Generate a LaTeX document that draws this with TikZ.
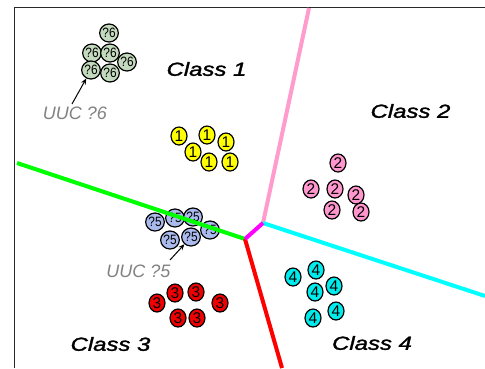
\documentclass[tikz,border=0pt]{standalone}
\usepackage{fontspec}
\setmainfont{Liberation Sans}
\newfontfamily\labelfont[FakeBold=1.4]{Liberation Sans}
\usetikzlibrary{shapes.geometric,arrows.meta}
\definecolor{framegray}{RGB}{40,40,40}
\definecolor{labgray}{RGB}{130,130,130}
\definecolor{fillsix}{RGB}{196,218,190}
\definecolor{fillfive}{RGB}{170,186,236}
\definecolor{fillone}{RGB}{255,255,0}
\definecolor{filltwo}{RGB}{255,150,205}
\definecolor{fillthree}{RGB}{240,0,0}
\definecolor{fillfour}{RGB}{0,235,235}
\definecolor{linegreen}{RGB}{0,255,0}
\definecolor{linepink}{RGB}{255,155,205}
\definecolor{linecyan}{RGB}{0,255,255}
\definecolor{linered}{RGB}{255,0,0}
\definecolor{linemag}{RGB}{255,0,255}
\tikzset{
  dot/.style={ellipse, draw=black, line width=1.2bp, minimum width=16bp,
    minimum height=18bp, inner sep=0pt,
    font=\fontsize{15.5bp}{15bp}\selectfont},
  qdot/.style={dot, font=\fontsize{13.5bp}{13bp}\selectfont},
  classlab/.style={font=\labelfont\fontsize{19bp}{20bp}\selectfont\itshape},
  uuclab/.style={font=\fontsize{18bp}{19bp}\selectfont\itshape, text=labgray},
  border/.style={draw=framegray, line width=1.8bp},
  bound/.style={line width=4bp},
  pointer/.style={draw=black, line width=1bp, -{Stealth[length=6bp,width=5bp]}}
}
\newcommand{\wide}[1]{\scalebox{1.26}[1]{#1}}
\newcommand{\tight}[1]{\scalebox{0.88}[1]{#1}}
\begin{document}
\begin{tikzpicture}[x=1bp,y=-1bp]
\useasboundingbox (0,0) rectangle (485,368);
\fill[white] (0,0) rectangle (485,368);
% frame
\draw[border] (14.5,368) -- (14.5,7.5) -- (485,7.5);

% unknown class ?5 (under the boundary)
\node[qdot, fill=fillfive] (q51) at (155,222) {\tight{?5}};
\node[qdot, fill=fillfive] (q52) at (175,218) {\tight{?5}};
\node[qdot, fill=fillfive] (q53) at (193,217) {\tight{?5}};
\node[qdot, fill=fillfive] (q54) at (210,230) {\tight{?5}};
\node[qdot, fill=fillfive] (q55) at (170,240) {\tight{?5}};
\node[qdot, fill=fillfive] (q56) at (191,237) {\tight{?5}};

% decision boundaries
\coordinate (ja) at (245,239);
\coordinate (jb) at (263,223);
\coordinate (eg) at (17,163);
\coordinate (ep) at (309,8);
\coordinate (ec) at (485,296);
\coordinate (er) at (282,368);
\draw[bound, linegreen] (eg) -- (ja);
\draw[bound, linered] (ja) -- (er);
\draw[bound, linepink] (jb) -- (ep);
\draw[bound, linecyan] (jb) -- (ec);
\draw[bound, linemag] (ja) -- (jb);

% unknown class ?6
\node[qdot, fill=fillsix] (q61) at (109,33) {\tight{?6}};
\node[qdot, fill=fillsix] (q62) at (92,53) {\tight{?6}};
\node[qdot, fill=fillsix] (q63) at (110,53) {\tight{?6}};
\node[qdot, fill=fillsix] (q64) at (127,62) {\tight{?6}};
\node[qdot, fill=fillsix] (q65) at (91,70) {\tight{?6}};
\node[qdot, fill=fillsix] (q66) at (110,73) {\tight{?6}};

% class 1
\node[dot, fill=fillone] (a1) at (179,136) {1};
\node[dot, fill=fillone] (a2) at (207,135) {1};
\node[dot, fill=fillone] (a3) at (226,142) {1};
\node[dot, fill=fillone] (a4) at (193,152) {1};
\node[dot, fill=fillone] (a5) at (209,162) {1};
\node[dot, fill=fillone] (a6) at (230,162) {1};

% class 2
\node[dot, fill=filltwo] (b1) at (338,163) {2};
\node[dot, fill=filltwo] (b2) at (311,189) {2};
\node[dot, fill=filltwo] (b3) at (335,189) {2};
\node[dot, fill=filltwo] (b4) at (356,195) {2};
\node[dot, fill=filltwo] (b5) at (332,210) {2};
\node[dot, fill=filltwo] (b6) at (361,212) {2};

% class 3
\node[dot, fill=fillthree] (c1) at (157,303) {3};
\node[dot, fill=fillthree] (c2) at (175,293) {3};
\node[dot, fill=fillthree] (c3) at (196,292) {3};
\node[dot, fill=fillthree] (c4) at (220,303) {3};
\node[dot, fill=fillthree] (c5) at (178,318) {3};
\node[dot, fill=fillthree] (c6) at (197,318) {3};

% class 4
\node[dot, fill=fillfour] (d1) at (293,277) {4};
\node[dot, fill=fillfour] (d2) at (316,270) {4};
\node[dot, fill=fillfour] (d3) at (315,292) {4};
\node[dot, fill=fillfour] (d4) at (334,286) {4};
\node[dot, fill=fillfour] (d5) at (313,318) {4};
\node[dot, fill=fillfour] (d6) at (336,311) {4};

% class names
\node[classlab] (n1) at (206.5,69) {\wide{Class 1}};
\node[classlab] (n2) at (410.5,111) {\wide{Class 2}};
\node[classlab] (n3) at (110.5,344) {\wide{Class 3}};
\node[classlab] (n4) at (372,343) {\wide{Class 4}};

% unknown-class captions with pointers
\node[uuclab] (u6) at (75,113) {UUC ?6};
\node[uuclab] (u5) at (138.5,271) {UUC ?5};
\coordinate (t6) at (72,104);
\coordinate (t5) at (170,260);
\draw[pointer] (t6) -- (q65);
\draw[pointer] (t5) -- (q56);
\end{tikzpicture}
\end{document}
